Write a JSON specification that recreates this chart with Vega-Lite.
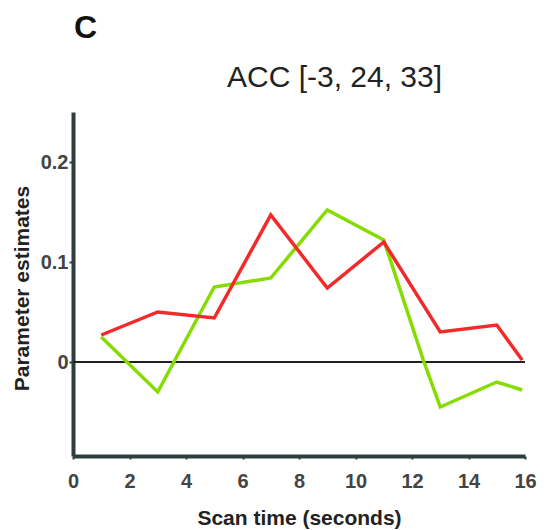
{
  "$schema": "https://vega.github.io/schema/vega-lite/v6.json",
  "width": 452,
  "height": 344,
  "autosize": {"type": "none"},
  "padding": {"left": 73, "top": 112, "right": 21, "bottom": 74},
  "background": "white",
  "title": {"text": "C", "anchor": "start", "frame": "group", "font": "Liberation Sans", "fontSize": 32, "fontWeight": "bold", "color": "#111111", "dx": 1, "dy": -13},
  "config": {"view": {"stroke": null}},
  "data": {
    "values": [
      {"t": 1, "v": 0.025, "s": "green"},
      {"t": 3, "v": -0.030, "s": "green"},
      {"t": 5, "v": 0.075, "s": "green"},
      {"t": 7, "v": 0.084, "s": "green"},
      {"t": 9, "v": 0.152, "s": "green"},
      {"t": 11, "v": 0.122, "s": "green"},
      {"t": 12.4, "v": 0.002, "s": "green"},
      {"t": 13, "v": -0.045, "s": "green"},
      {"t": 15, "v": -0.020, "s": "green"},
      {"t": 15.9, "v": -0.028, "s": "green"},
      {"t": 1, "v": 0.027, "s": "red"},
      {"t": 3, "v": 0.050, "s": "red"},
      {"t": 5, "v": 0.044, "s": "red"},
      {"t": 7, "v": 0.147, "s": "red"},
      {"t": 9, "v": 0.074, "s": "red"},
      {"t": 11, "v": 0.120, "s": "red"},
      {"t": 13, "v": 0.030, "s": "red"},
      {"t": 15, "v": 0.037, "s": "red"},
      {"t": 15.9, "v": 0.002, "s": "red"}
    ]
  },
  "layer": [
    {
      "mark": {"type": "rule", "stroke": "#222222", "strokeWidth": 1.5},
      "encoding": {"y": {"datum": 0, "type": "quantitative"}}
    },
    {
      "mark": {"type": "line", "strokeWidth": 3.5},
      "encoding": {
        "x": {
          "field": "t", "type": "quantitative",
          "scale": {"domain": [0, 16], "nice": false, "zero": false},
          "axis": {
            "orient": "bottom", "values": [0, 2, 4, 6, 8, 10, 12, 14, 16], "grid": false,
            "domainColor": "#2e3d3d", "domainWidth": 4, "tickColor": "#2e3d3d", "tickSize": 3, "tickWidth": 2,
            "labelFont": "Liberation Sans", "labelFontSize": 20, "labelFontWeight": "bold", "labelColor": "#444444",
            "labelPadding": 12, "labelFlush": false, "labelOverlap": false,
            "title": "Scan time (seconds)", "titleFont": "Liberation Sans", "titleFontSize": 21, "titleFontWeight": "bold", "titleColor": "#222222",
            "titleX": 226, "titleY": 68, "titleBaseline": "alphabetic"
          }
        },
        "y": {
          "field": "v", "type": "quantitative",
          "scale": {"domain": [-0.094, 0.25], "nice": false, "zero": false},
          "axis": {
            "values": [0, 0.1, 0.2], "format": "~g", "grid": false,
            "domainColor": "#2e3d3d", "domainWidth": 4, "tickColor": "#2e3d3d", "tickSize": 4, "tickWidth": 2,
            "labelFont": "Liberation Sans", "labelFontSize": 20, "labelFontWeight": "bold", "labelColor": "#444444",
            "labelPadding": 1,
            "title": "Parameter estimates", "titleFont": "Liberation Sans", "titleFontSize": 21, "titleFontWeight": "bold", "titleColor": "#222222",
            "titleX": -51, "titleY": 176, "titleBaseline": "middle"
          }
        },
        "color": {
          "field": "s", "type": "nominal",
          "scale": {"domain": ["green", "red"], "range": ["#86dc00", "#f22a2a"]},
          "legend": null
        }
      }
    },
    {
      "mark": {"type": "point", "opacity": 0},
      "encoding": {
        "x": {
          "field": "t", "type": "quantitative",
          "axis": {
            "orient": "top", "domain": false, "ticks": false, "labels": false, "grid": false,
            "title": "ACC [-3, 24, 33]", "titleFont": "Liberation Sans", "titleFontSize": 30, "titleFontWeight": "normal", "titleColor": "#222222",
            "titleX": 261, "titleY": -26, "titleBaseline": "alphabetic"
          }
        }
      }
    }
  ],
  "resolve": {"axis": {"x": "independent"}}
}
